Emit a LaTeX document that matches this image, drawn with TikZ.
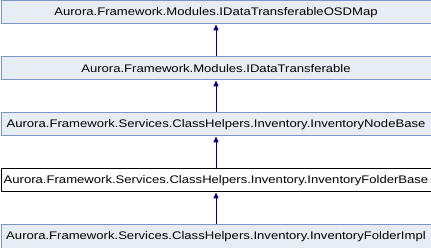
\documentclass[tikz,border=0pt]{standalone}
\usepackage{fontspec}
\setmainfont{Liberation Sans}[FakeStretch=1.19]
\usetikzlibrary{arrows.meta}
\definecolor{boxfill}{HTML}{E8ECF5}
\definecolor{boxline}{HTML}{7D95CE}
\definecolor{edgeblue}{HTML}{000080}
\begin{document}
\begin{tikzpicture}[x=1pt,y=-1pt,
  cls/.style={draw=boxline,fill=boxfill,line width=1pt,minimum width=430pt,minimum height=23pt,
    inner sep=0pt,anchor=north west,font=\fontsize{11}{13}\selectfont},
  current/.style={cls,draw=black,fill=white},
  inherit/.style={draw=edgeblue,line width=1pt,-{Triangle[length=6pt,width=5pt]}}]
\useasboundingbox (0,0) rectangle (431,248);
\node[cls] (osd) at (0.5,0.5) {Aurora.Framework.Modules.IDataTransferableOSDMap};
\node[cls] (dt) at (0.5,56.5) {Aurora.Framework.Modules.IDataTransferable};
\node[cls] (node) at (0.5,112.5) {Aurora.Framework.Services.ClassHelpers.Inventory.InventoryNodeBase};
\node[current] (folder) at (0.5,168.5) {Aurora.Framework.Services.ClassHelpers.Inventory.InventoryFolderBase};
\node[cls] (impl) at (0.5,224.5) {Aurora.Framework.Services.ClassHelpers.Inventory.InventoryFolderImpl};
\draw[inherit] (dt.north) -- (osd.south);
\draw[inherit] (node.north) -- (dt.south);
\draw[inherit] (folder.north) -- (node.south);
\draw[inherit] (impl.north) -- (folder.south);
\end{tikzpicture}
\end{document}
